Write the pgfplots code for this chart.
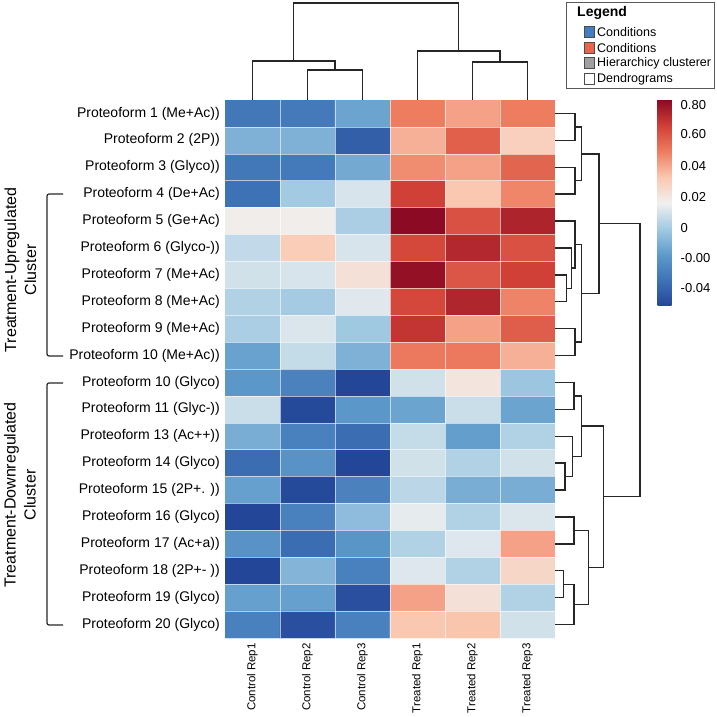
\documentclass[border=0pt]{standalone}
\usepackage{pgfplots}
\pgfplotsset{compat=1.18}
\usepackage{pgfplotstable}
\usepackage{fontspec}
\setmainfont{Liberation Sans}

\pgfplotstableread{
x y v
0.5 0.5 -0.72
1.5 0.5 -0.70
2.5 0.5 -0.45
3.5 0.5 0.50
4.5 0.5 0.38
5.5 0.5 0.50
0.5 1.5 -0.38
1.5 1.5 -0.38
2.5 1.5 -0.86
3.5 1.5 0.33
4.5 1.5 0.62
5.5 1.5 0.20
0.5 2.5 -0.72
1.5 2.5 -0.70
2.5 2.5 -0.42
3.5 2.5 0.45
4.5 2.5 0.38
5.5 2.5 0.60
0.5 3.5 -0.75
1.5 3.5 -0.25
2.5 3.5 -0.08
3.5 3.5 0.75
4.5 3.5 0.25
5.5 3.5 0.47
0.5 4.5 0.02
1.5 4.5 0.02
2.5 4.5 -0.22
3.5 4.5 1.00
4.5 4.5 0.68
5.5 4.5 0.88
0.5 5.5 -0.15
1.5 5.5 0.22
2.5 5.5 -0.08
3.5 5.5 0.72
4.5 5.5 0.86
5.5 5.5 0.68
0.5 6.5 -0.10
1.5 6.5 -0.08
2.5 6.5 0.10
3.5 6.5 0.97
4.5 6.5 0.66
5.5 6.5 0.75
0.5 7.5 -0.20
1.5 7.5 -0.24
2.5 7.5 -0.05
3.5 7.5 0.72
4.5 7.5 0.87
5.5 7.5 0.48
0.5 8.5 -0.22
1.5 8.5 -0.07
2.5 8.5 -0.26
3.5 8.5 0.80
4.5 8.5 0.38
5.5 8.5 0.63
0.5 9.5 -0.46
1.5 9.5 -0.14
2.5 9.5 -0.38
3.5 9.5 0.52
4.5 9.5 0.52
5.5 9.5 0.33
0.5 10.5 -0.52
1.5 10.5 -0.65
2.5 10.5 -1.00
3.5 10.5 -0.10
4.5 10.5 0.07
5.5 10.5 -0.27
0.5 11.5 -0.12
1.5 11.5 -0.98
2.5 11.5 -0.52
3.5 11.5 -0.45
4.5 11.5 -0.12
5.5 11.5 -0.45
0.5 12.5 -0.40
1.5 12.5 -0.66
2.5 12.5 -0.78
3.5 12.5 -0.14
4.5 12.5 -0.48
5.5 12.5 -0.20
0.5 13.5 -0.78
1.5 13.5 -0.55
2.5 13.5 -1.00
3.5 13.5 -0.10
4.5 13.5 -0.20
5.5 13.5 -0.10
0.5 14.5 -0.47
1.5 14.5 -0.98
2.5 14.5 -0.65
3.5 14.5 -0.17
4.5 14.5 -0.40
5.5 14.5 -0.40
0.5 15.5 -1.00
1.5 15.5 -0.66
2.5 15.5 -0.32
3.5 15.5 -0.03
4.5 15.5 -0.20
5.5 15.5 -0.07
0.5 16.5 -0.55
1.5 16.5 -0.78
2.5 16.5 -0.53
3.5 16.5 -0.20
4.5 16.5 -0.06
5.5 16.5 0.38
0.5 17.5 -1.00
1.5 17.5 -0.36
2.5 17.5 -0.66
3.5 17.5 -0.06
4.5 17.5 -0.20
5.5 17.5 0.16
0.5 18.5 -0.47
1.5 18.5 -0.47
2.5 18.5 -0.95
3.5 18.5 0.38
4.5 18.5 0.10
5.5 18.5 -0.20
0.5 19.5 -0.66
1.5 19.5 -0.95
2.5 19.5 -0.66
3.5 19.5 0.25
4.5 19.5 0.26
5.5 19.5 -0.10
}\heatdata

\pgfplotsset{
  colormap={rdbu}{
    rgb255=(36,70,152)
    rgb255=(62,114,182)
    rgb255=(94,154,203)
    rgb255=(162,202,226)
    rgb255=(240,240,240)
    rgb255=(250,200,176)
    rgb255=(238,125,96)
    rgb255=(208,64,55)
    rgb255=(140,10,35)
  },
  dendro/.style={black!85, line width=1.4bp},
}

\begin{document}
\begin{tikzpicture}
\useasboundingbox (0,0) rectangle (717bp,717bp);

% ---------------- heatmap ----------------
\begin{axis}[
  at={(225bp,79bp)}, anchor=south west,
  scale only axis, width=330bp, height=538bp,
  xmin=0, xmax=6, ymin=0, ymax=20, y dir=reverse,
  enlargelimits=false,
  axis line style={draw=none},
  tick style={draw=none},
  xtick={0.5,1.5,...,5.5},
  xticklabels={Control Rep1,Control Rep2,Control Rep3,Treated Rep1,Treated Rep2,Treated Rep3},
  xticklabel style={rotate=90, anchor=east, inner sep=0pt, font=\fontsize{11.5bp}{13bp}\selectfont},
  xticklabel shift=5bp,
  ytick={0.5,1.5,...,19.5},
  yticklabels={{Proteoform 1 (Me+Ac))},{Proteoform 2 (2P))},{Proteoform 3 (Glyco))},{Proteoform 4 (De+Ac)},{Proteoform 5 (Ge+Ac)},{Proteoform 6 (Glyco-))},{Proteoform 7 (Me+Ac)},{Proteoform 8 (Me+Ac)},{Proteoform 9 (Me+Ac)},{Proteoform 10 (Me+Ac))},{Proteoform 10 (Glyco)},{Proteoform 11 (Glyc-))},{Proteoform 13 (Ac++))},{Proteoform 14 (Glyco)},{Proteoform 15 (2P+. ))},{Proteoform 16 (Glyco)},{Proteoform 17 (Ac+a))},{Proteoform 18 (2P+- ))},{Proteoform 19 (Glyco)},{Proteoform 20 (Glyco)}},
  yticklabel style={anchor=east, inner sep=0pt, font=\fontsize{14bp}{16bp}\selectfont},
  yticklabel shift=5bp,
  minor xtick={1,2,3,4,5},
  minor ytick={1,2,...,19},
  xminorgrids, yminorgrids,
  minor grid style={draw=white, line width=0.6bp, opacity=0.6},
  axis on top,
  colormap name=rdbu,
  point meta min=-1, point meta max=1,
  colorbar,
  colorbar style={
    at={(parent axis.north east)}, anchor=north west,
    xshift=94bp,
    scale only axis,
    width=19bp, height=206bp,
    axis line style={draw=none},
    tick style={draw=none},
    ytick={0.951,0.670,0.359,0.058,-0.243,-0.534,-0.825},
    yticklabels={0.80,0.60,0.04,0.02,0,-0.00,-0.04},
    yticklabel style={anchor=west, inner sep=0pt, font=\fontsize{13bp}{15bp}\selectfont},
    yticklabel shift=4bp,
  },
]
\addplot[matrix plot*, mesh/cols=6, mesh/rows=20, point meta=explicit]
  table[x=x, y=y, meta=v] {\heatdata};
\end{axis}

% ---------------- top dendrogram ----------------
\begin{axis}[
  at={(225bp,617bp)}, anchor=south west,
  scale only axis, width=330bp, height=100bp,
  xmin=0, xmax=6, ymin=0, ymax=100,
  hide axis, clip=false,
]
\addplot[dendro] coordinates {(1.5,0) (1.5,30) (2.5,30) (2.5,0)};
\addplot[dendro] coordinates {(0.5,0) (0.5,39) (2.0,39) (2.0,30)};
\addplot[dendro] coordinates {(4.5,0) (4.5,38) (5.5,38) (5.5,0)};
\addplot[dendro] coordinates {(3.5,0) (3.5,49) (5.0,49) (5.0,38)};
\addplot[dendro] coordinates {(1.25,39) (1.25,97) (4.25,97) (4.25,49)};
\end{axis}

% ---------------- right dendrogram ----------------
\begin{axis}[
  at={(555bp,79bp)}, anchor=south west,
  scale only axis, width=90bp, height=538bp,
  xmin=0, xmax=90, ymin=0, ymax=20, y dir=reverse,
  hide axis, clip=false,
]
% upper cluster
\addplot[dendro] coordinates {(0,0.5) (20,0.5) (20,1.5) (0,1.5)};
\addplot[dendro] coordinates {(0,2.5) (20,2.5) (20,3.5) (0,3.5)};
\addplot[dendro] coordinates {(20,1.0) (26.7,1.0) (26.7,3.0) (20,3.0)};
\addplot[dendro] coordinates {(0,6.5) (11.7,6.5) (11.7,7.5) (0,7.5)};
\addplot[dendro] coordinates {(0,5.5) (16.7,5.5) (16.7,7.0) (11.7,7.0)};
\addplot[dendro] coordinates {(0,4.5) (20,4.5) (20,6.25) (16.7,6.25)};
\addplot[dendro] coordinates {(0,8.5) (20,8.5) (20,9.5) (0,9.5)};
\addplot[dendro] coordinates {(20,5.375) (26.7,5.375) (26.7,9.0) (20,9.0)};
\addplot[dendro] coordinates {(26.7,2.0) (44,2.0) (44,7.19) (26.7,7.19)};
% lower cluster
\addplot[dendro] coordinates {(0,10.5) (19,10.5) (19,11.5) (0,11.5)};
\addplot[dendro] coordinates {(0,13.5) (10,13.5) (10,14.5) (0,14.5)};
\addplot[dendro] coordinates {(0,12.5) (17.3,12.5) (17.3,14.0) (10,14.0)};
\addplot[dendro] coordinates {(19,11.0) (26.7,11.0) (26.7,13.25) (17.3,13.25)};
\addplot[dendro] coordinates {(0,15.5) (19,15.5) (19,16.5) (0,16.5)};
\addplot[dendro] coordinates {(0,17.5) (8.3,17.5) (8.3,18.5) (0,18.5)};
\addplot[dendro] coordinates {(8.3,18.0) (19,18.0) (19,19.5) (0,19.5)};
\addplot[dendro] coordinates {(19,16.0) (33.3,16.0) (33.3,18.75) (19,18.75)};
\addplot[dendro] coordinates {(26.7,12.125) (48.3,12.125) (48.3,17.375) (33.3,17.375)};
% root
\addplot[dendro] coordinates {(44,4.6) (85,4.6) (85,14.75) (48.3,14.75)};
\end{axis}

% ---------------- cluster brackets and labels ----------------
\draw[black!85, line width=1.2bp, rounded corners=2bp] (63bp,523bp) -- (47bp,523bp) -- (47bp,361bp) -- (63bp,361bp);
\draw[black!85, line width=1.2bp, rounded corners=2bp] (63bp,334bp) -- (47bp,334bp) -- (47bp,92bp) -- (63bp,92bp);
\node[rotate=90, align=center, inner sep=0pt, font=\fontsize{16bp}{20bp}\selectfont] at (20.5bp,447bp) {Treatment-Upregulated\\Cluster};
\node[rotate=90, align=center, inner sep=0pt, font=\fontsize{16bp}{20bp}\selectfont] at (20bp,222bp) {Treatment-Downregulated\\Cluster};

% ---------------- legend ----------------
\definecolor{legblue}{RGB}{66,125,190}
\definecolor{legred}{RGB}{232,100,75}
\definecolor{leggray}{RGB}{160,160,160}
\draw[black!65, line width=0.9bp, fill=white] (566bp,629bp) rectangle (714bp,715bp);
\node[anchor=west, inner sep=0pt, font=\bfseries\fontsize{14bp}{16bp}\selectfont] at (577bp,704bp) {Legend};
\foreach \c/\yy/\t in {legblue/685/Conditions, legred/669/Conditions, leggray/654/Hierarchicy clusterer, white/638/Dendrograms}{
  \draw[black!70, line width=0.7bp, fill=\c] (584.5bp,\yy bp-5.5bp) rectangle (594.5bp,\yy bp+5.5bp);
  \node[anchor=west, inner sep=0pt, font=\fontsize{12.5bp}{14bp}\selectfont] at (597bp,\yy bp) {\t};
}
\end{tikzpicture}
\end{document}
